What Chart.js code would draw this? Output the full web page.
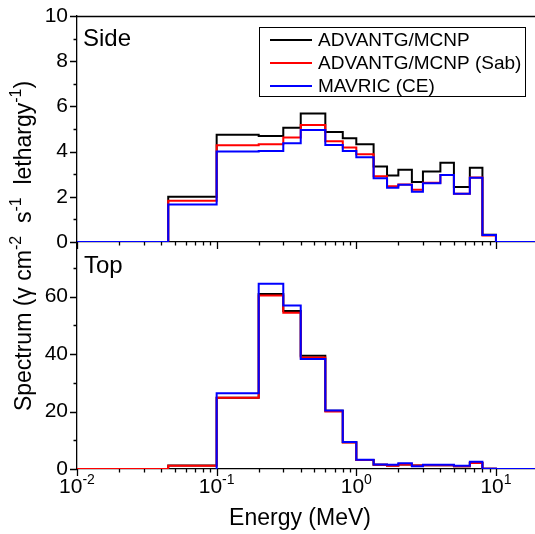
<!DOCTYPE html>
<html>
<head>
<meta charset="utf-8">
<script src="https://cdn.jsdelivr.net/npm/chart.js@4.4.1/dist/chart.umd.min.js"></script>
<style>
  html, body { margin: 0; padding: 0; background: #fff; overflow: hidden; }
  #wrap { position: relative; width: 535px; height: 534px; overflow: hidden; }
  #wrap canvas { position: absolute; left: 0; top: 0; }
</style>
</head>
<body>
<div id="wrap">
  <canvas id="bottomChart" width="538" height="534"></canvas>
  <canvas id="topChart" width="538" height="250"></canvas>
</div>
<script>
// 19-group photon energy structure (MeV), low to high
const EDGES = [0.01, 0.045, 0.1, 0.2, 0.3, 0.4, 0.6, 0.8, 1.0, 1.33, 1.66, 2.0, 2.5, 3.0, 4.0, 5.0, 6.5, 8.0, 10.0, 20.0];

// "Side" panel
const SIDE_MCNP   = [0, 2.0, 4.75, 4.69, 5.06, 5.69, 4.87, 4.59, 4.32, 3.34, 2.94, 3.2, 2.66, 3.12, 3.51, 2.43, 3.28, 0.32, 0];
const SIDE_SAB    = [0, 1.82, 4.28, 4.32, 4.62, 5.18, 4.46, 4.18, 3.88, 2.91, 2.47, 2.54, 2.31, 2.62, 2.97, 2.13, 2.85, 0.29, 0];
const SIDE_MAVRIC = [0, 1.66, 4.0, 4.03, 4.37, 4.96, 4.29, 4.03, 3.75, 2.82, 2.4, 2.53, 2.22, 2.6, 2.96, 2.13, 2.84, 0.31, 0];

// "Top" panel
const TOP_MCNP   = [0, 1.2, 24.8, 60.9, 55.0, 39.4, 20.3, 9.3, 3.1, 1.5, 1.2, 1.6, 1.2, 1.3, 1.3, 1.0, 2.1, 0.1, 0];
const TOP_SAB    = [0, 1.15, 24.8, 60.4, 54.4, 38.8, 20.0, 9.2, 3.1, 1.5, 1.15, 1.6, 1.2, 1.3, 1.3, 1.0, 2.1, 0.1, 0];
const TOP_MAVRIC = [null, null, 26.4, 64.5, 56.9, 38.3, 20.4, 9.4, 3.2, 1.6, 1.5, 2.0, 1.0, 1.5, 1.5, 1.15, 2.5, 0.1, 0];

const LABELS = ['ADVANTG/MCNP', 'ADVANTG/MCNP (Sab)', 'MAVRIC (CE)'];
const COLORS = ['#000000', '#ff0000', '#0000ff'];
const X_DECADES = [-2, -1, 0, 1];

const FONT = "'Liberation Sans', Arial, sans-serif";

// histogram outline: start from baseline, then flat top over each bin
function steps(vals) {
    const pts = [];
    vals.forEach((v, i) => {
        if (v === null) return;
        if (pts.length === 0) pts.push({x: EDGES[i], y: 0});
        pts.push({x: EDGES[i], y: v});
        pts.push({x: EDGES[i + 1], y: v});
    });
    return pts;
}

function datasets(series) {
    return series.map((vals, i) => ({
        label: LABELS[i],
        data: steps(vals),
        borderColor: COLORS[i],
        borderWidth: 2,
        pointRadius: 0,
        fill: false,
        tension: 0,
        order: 3 - i,
    }));
}

// tick marks drawn by hand so minor and major can differ in length
const tickMarks = {
    id: 'tickMarks',
    afterDraw(chart, args, opts) {
        const {ctx, chartArea: a, scales: {x, y}} = chart;
        ctx.save();
        ctx.strokeStyle = '#000';
        ctx.lineWidth = 1.3;
        ctx.beginPath();
        for (let k = -2; k <= 1; k++) {
            for (let m = 1; m <= 9; m++) {
                const v = m * Math.pow(10, k);
                if (v > x.max) continue;
                const px = Math.round(x.getPixelForValue(v)) + 0.5;
                const len = m === 1 ? 7 : 3.5;
                ctx.moveTo(px, a.bottom);
                ctx.lineTo(px, a.bottom + len);
            }
        }
        for (let v = 0; v <= y.max; v += opts.minor) {
            const py = Math.round(y.getPixelForValue(v)) + 0.5;
            const major = Math.abs(v / opts.major - Math.round(v / opts.major)) < 1e-6;
            ctx.moveTo(a.left, py);
            ctx.lineTo(a.left - (major ? 7 : 3.5), py);
        }
        ctx.stroke();
        if (opts.topBorder) {
            ctx.beginPath();
            ctx.moveTo(a.left, a.top + 0.5);
            ctx.lineTo(a.right, a.top + 0.5);
            ctx.stroke();
        }
        ctx.fillStyle = '#000';
        ctx.font = `24px ${FONT}`;
        ctx.textBaseline = 'alphabetic';
        ctx.textAlign = 'left';
        ctx.fillText(opts.panel, opts.panelX, opts.panelY);
        ctx.restore();
    }
};

const legendBox = {
    id: 'legendBox',
    afterDraw(chart) {
        const {ctx} = chart;
        ctx.save();
        ctx.fillStyle = '#fff';
        ctx.fillRect(259.5, 27.5, 266, 69);
        ctx.strokeStyle = '#000';
        ctx.lineWidth = 1;
        ctx.strokeRect(259.5, 27.5, 266, 69);
        ctx.font = `19px ${FONT}`;
        ctx.textBaseline = 'middle';
        ctx.textAlign = 'left';
        LABELS.forEach((t, i) => {
            const yy = 40 + i * 23;
            ctx.strokeStyle = COLORS[i];
            ctx.lineWidth = 2;
            ctx.beginPath();
            ctx.moveTo(270, yy);
            ctx.lineTo(312, yy);
            ctx.stroke();
            ctx.fillStyle = '#000';
            ctx.fillText(t, 318, yy + 1);
        });
        ctx.restore();
    }
};

// x tick labels with exponents, x title and the shared y title
const axisText = {
    id: 'axisText',
    afterDraw(chart) {
        const {ctx, chartArea: a, scales: {x}} = chart;
        ctx.save();
        ctx.fillStyle = '#000';
        ctx.textBaseline = 'alphabetic';
        X_DECADES.forEach(k => {
            const px = x.getPixelForValue(Math.pow(10, k));
            const base = `21px ${FONT}`, sup = `14px ${FONT}`;
            ctx.font = base;
            const w1 = ctx.measureText('10').width;
            ctx.font = sup;
            const exp = String(k);
            const w2 = ctx.measureText(exp).width;
            const x0 = px - (w1 + w2) / 2;
            ctx.font = base;
            ctx.textAlign = 'left';
            ctx.fillText('10', x0, a.bottom + 24);
            ctx.font = sup;
            ctx.fillText(exp, x0 + w1, a.bottom + 15);
        });
        ctx.font = `23px ${FONT}`;
        ctx.textAlign = 'center';
        ctx.fillText('Energy (MeV)', 300, 525);

        // rotated y title built from pieces so the exponents can be raised
        const parts = [
            ['Spectrum (\u03b3 cm', 0], ['-2', 1], ['  s', 0], ['-1', 1], ['  lethargy', 0], ['-1', 1], [')', 0]
        ];
        const bigF = `23px ${FONT}`, supF = `16px ${FONT}`;
        let total = 0;
        parts.forEach(([t, s]) => { ctx.font = s ? supF : bigF; total += ctx.measureText(t).width; });
        ctx.translate(31, 246);
        ctx.rotate(-Math.PI / 2);
        let cx = -total / 2;
        ctx.textAlign = 'left';
        parts.forEach(([t, s]) => {
            ctx.font = s ? supF : bigF;
            ctx.fillText(t, cx, s ? -10 : 0);
            cx += ctx.measureText(t).width;
        });
        ctx.restore();
    }
};

function baseOptions(yMax, yStep, padTop, xHeight, tickOpts) {
    return {
        responsive: false,
        animation: false,
        layout: {padding: {top: padTop, left: 0, right: 0, bottom: 0}},
        plugins: {legend: {display: false}, tooltip: {enabled: false}, tickMarks: tickOpts},
        scales: {
            x: {
                type: 'logarithmic',
                min: 0.01,
                max: 20,
                grid: {display: false, drawTicks: false},
                border: {display: true, color: '#000', width: 1.3},
                ticks: {display: false},
                afterFit: s => { s.height = xHeight; s.paddingLeft = 0; s.paddingRight = 0; },
            },
            y: {
                type: 'linear',
                min: 0,
                max: yMax,
                grid: {display: false, drawTicks: false},
                border: {display: true, color: '#000', width: 1.3},
                ticks: {
                    stepSize: yStep,
                    color: '#000',
                    padding: 9,
                    font: {family: FONT, size: 21},
                },
                afterBuildTicks: s => { s.ticks = s.ticks.filter(t => t.value % yStep === 0); },
                afterFit: s => { s.width = 77; s.paddingTop = 0; s.paddingBottom = 0; },
            },
        },
    };
}

new Chart(document.getElementById('bottomChart'), {
    type: 'line',
    data: {datasets: datasets([TOP_MCNP, TOP_SAB, TOP_MAVRIC])},
    options: baseOptions(79, 20, 242, 65,
        {minor: 10, major: 20, topBorder: false, panel: 'Top', panelX: 84, panelY: 273}),
    plugins: [tickMarks, axisText],
});

new Chart(document.getElementById('topChart'), {
    type: 'line',
    data: {datasets: datasets([SIDE_MCNP, SIDE_SAB, SIDE_MAVRIC])},
    options: baseOptions(10, 2, 16, 8,
        {minor: 1, major: 2, topBorder: true, panel: 'Side', panelX: 83, panelY: 46}),
    plugins: [tickMarks, legendBox],
});
</script>
</body>
</html>
